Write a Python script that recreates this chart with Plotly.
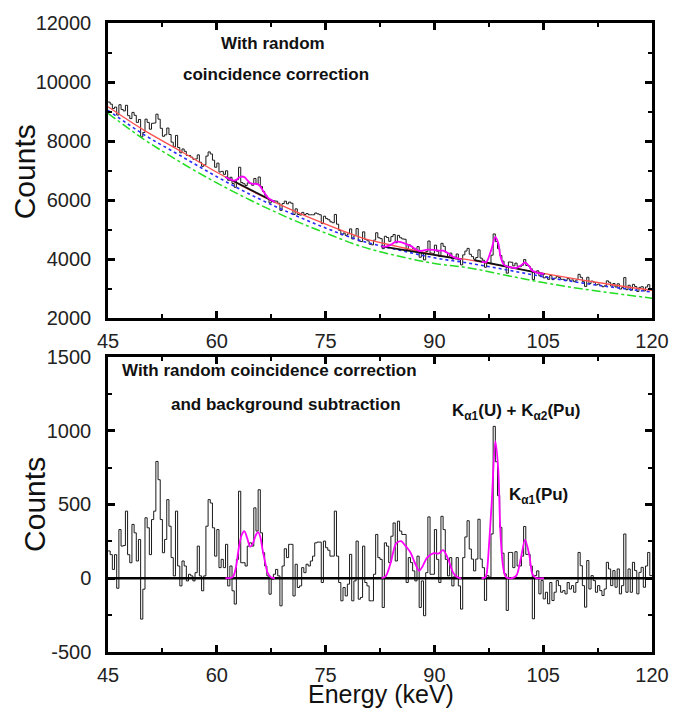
"""
Two-panel gamma spectrum (45-120 keV): raw counts with background fits (top)
and net counts after random-coincidence correction and background
subtraction (bottom), with the fitted X-ray peaks in magenta.
"""
import numpy as np
import plotly.graph_objects as go
from plotly.subplots import make_subplots

# Histogram bins: 250 channels of 0.3 keV starting at 45 keV.
BIN_START = 45.0
BIN_WIDTH = 0.3

# Net counts per bin (bottom panel).
NET = [
    185, 160, 60, 160, -68, 330, 218, 222, 455, 160, 105, 365, 308, 117, 263, -277, -74,
    410, 342, 160, 398, 455, 792, 668, 398, 173, 263, 533, 353, 140, 16, 455, 83, -52,
    117, 83, -18, 27, 16, -18, 38, 218, 16, -85, 16, 353, 533, 510, 342, 150,
    330, 72, 128, 72, 230, -52, 83, -85, -175, 128, 590, 105, 105, 83, 218, 240, 218,
    477, 320, 600, 308, 173, 83, 16, -108, -7, 27, 60, 16, -187, 83, 200, 140, 230,
    230, -120, 95, -63, -52, 72, 38, 95, 83, 117, 150, 240, 245, 245, -29, 252,
    207, 190, 150, 150, 455, 150, -29, -153, -63, -120, -40, 162, -153, -18, 252, -142, -130,
    218, -29, -52, -153, -153, 27, 297, 140, 128, -198, 240, 218, 106, 285, 375, 117, 387,
    320, 297, 297, -29, 140, 106, 50, -18, 150, -198, -18, -254, 38, 416, 27, 27,
    330, 128, -29, 420, 330, 128, 16, 140, -52, 16, 140, -52, -209, 140, 280, 390, 198,
    130, 50, 130, 400, 130, 72, -150, 18, 7, 300, 1030, 790, 560, 345, 170, 30, -218,
    175, 175, 72, 180, 83, 83, 150, 351, 162, 162, 83, -275, 18, 50, -106, -16,
    -140, -95, -173, -29, -151, -95, -16, -50, -95, -84, -106, -29, -73, -50, -95, -29, 175,
    85, -50, -196, 120, -73, 18, -16, -95, -50, -84, -117, -73, 108, 63, -50, 52, -61,
    63, -106, -50, 300, -95, 63, -95, 108, 52, -106, 40, 74, -61, 83, 175, 18,
]

# Raw counts per bin (top panel), corrected for random coincidences.
RAW = [
    9320, 9250, 9100, 9150, 8880, 9230, 9070, 9020, 9210, 8860, 8760, 8970, 8870, 8630, 8730, 8140, 8290,
    8740, 8630, 8400, 8600, 8610, 8910, 8740, 8430, 8160, 8210, 8440, 8220, 7960, 7800, 8190, 7780, 7600,
    7730, 7650, 7510, 7510, 7450, 7380, 7390, 7530, 7280, 7140, 7190, 7490, 7630, 7560, 7350, 7110,
    7250, 6950, 6970, 6870, 6990, 6670, 6770, 6560, 6430, 6690, 7110, 6590, 6550, 6490, 6580, 6570, 6500,
    6730, 6540, 6780, 6460, 6290, 6160, 6060, 5900, 5970, 5970, 5960, 5890, 5650, 5880, 5960, 5870, 5930,
    5890, 5510, 5700, 5510, 5490, 5580, 5510, 5540, 5500, 5500, 5500, 5560, 5530, 5500, 5200, 5450,
    5370, 5330, 5260, 5230, 5510, 5180, 4970, 4820, 4880, 4800, 4850, 5020, 4680, 4790, 5030, 4610, 4590,
    4920, 4660, 4620, 4500, 4480, 4640, 4890, 4720, 4690, 4350, 4770, 4730, 4600, 4760, 4830, 4550, 4800,
    4720, 4680, 4670, 4320, 4480, 4430, 4350, 4270, 4420, 4060, 4220, 3970, 4250, 4610, 4200, 4190,
    4470, 4260, 4090, 4530, 4430, 4220, 4090, 4200, 4000, 4060, 4170, 3970, 3800, 4140, 4270, 4360, 4160,
    4080, 3990, 4050, 4310, 4030, 3960, 3720, 3880, 3850, 4130, 4850, 4590, 4350, 4120, 3930, 3780, 3520,
    3900, 3890, 3770, 3860, 3750, 3740, 3790, 3980, 3780, 3760, 3670, 3300, 3580, 3600, 3430, 3500,
    3360, 3400, 3310, 3440, 3300, 3350, 3410, 3370, 3310, 3310, 3270, 3340, 3280, 3290, 3230, 3290, 3480,
    3380, 3230, 3070, 3380, 3170, 3250, 3210, 3120, 3150, 3100, 3060, 3090, 3260, 3210, 3080, 3170, 3050,
    3160, 2980, 3030, 3370, 2960, 3110, 2940, 3140, 3070, 2900, 3040, 3060, 2920, 3050, 3130, 2960,
]

# Background curves in the top panel, sampled every 5 keV.
BG_E = [45, 50, 55, 60, 65, 70, 75, 80, 85, 90, 95, 100, 105, 110, 115, 120]
BG_RED = [9160, 8360, 7660, 6940, 6280, 5700, 5180, 4720, 4420, 4150, 3960, 3740, 3510, 3300, 3110, 2940]
BG_BLUE = [9040, 8210, 7500, 6790, 6140, 5570, 5050, 4610, 4310, 4040, 3850, 3630, 3400, 3200, 3030, 2880]
BG_GREEN = [8940, 8050, 7280, 6580, 5950, 5380, 4880, 4420, 4100, 3850, 3690, 3440, 3200, 3000, 2830, 2670]

# Local linear baselines under the fitted peak groups (top panel).
BASE_E = [[61.2, 68.0], [82.7, 93.7], [95.5, 105.2]]
BASE_Y = [[6780, 5930], [4430, 3990], [3960, 3490]]

# Peak fits: energies, net fit (bottom) and fit on raw counts (top).
FIT1_E = [61.2, 61.9, 62.3, 62.7, 63.0, 63.4, 63.8, 64.2, 64.6, 65.0, 65.4, 65.7, 66.0, 66.3, 66.7, 67.0, 67.5, 68.0]
FIT1_NET = [0, 2, 16, 90, 196, 290, 320, 270, 214, 240, 295, 313, 280, 196, 100, 38, 5, 0]
FIT1_RAW = [6780, 6694, 6658, 6682, 6751, 6795, 6775, 6675, 6569, 6545, 6550, 6531, 6460, 6339, 6193, 6093, 5998, 5930]

FIT2_E = [82.7, 83.3, 84.0, 84.7, 85.4, 86.0, 86.7, 87.3, 87.9, 88.3, 89.0, 89.9, 90.6, 91.2, 91.9, 92.6, 93.3, 93.7]
FIT2_NET = [0, 15, 110, 235, 252, 220, 175, 105, 50, 75, 140, 170, 168, 190, 130, 35, 3, 0]
FIT2_RAW = [4430, 4421, 4488, 4585, 4574, 4518, 4445, 4351, 4272, 4281, 4318, 4312, 4282, 4280, 4192, 4069, 4009, 3990]

FIT3_E = [96.5, 97.0, 97.2, 97.4, 97.9, 98.4, 98.8, 99.1, 99.45, 99.7, 99.9, 100.6, 101.3, 101.9, 102.5, 103.1, 103.5, 104.0, 105.1]
FIT3_NET = [0, 5, 30, 130, 513, 929, 738, 310, 85, 25, 7, 0, 18, 130, 261, 153, 29, 2, 0]
FIT3_RAW = [3912, 3892, 3908, 3998, 4357, 4748, 4538, 4096, 3854, 3782, 3754, 3713, 3697, 3780, 3882, 3745, 3601, 3550, 3494]

# Axis ticks (hyphen minus as in the original figure).
X_TICKS = [45, 60, 75, 90, 105, 120]
Y1_TICKS = [2000, 4000, 6000, 8000, 10000, 12000]
Y2_TICKS = [-500, 0, 500, 1000, 1500]
Y2_LABELS = ["-500", "0", "500", "1000", "1500"]

FONT = "Liberation Sans, Arial, sans-serif"
MAGENTA = "#ff00ff"


def step_xy(values):
    """Bin edges + values for an 'hv' step line closing on the last edge."""
    edges = BIN_START + BIN_WIDTH * np.arange(len(values) + 1)
    return edges, list(values) + [values[-1]]


fig = make_subplots(rows=2, cols=1)

# ---- top panel: raw spectrum and backgrounds
hx, hy = step_xy(RAW)
fig.add_trace(go.Scatter(x=hx, y=hy, mode="lines", line=dict(color="#1a1a1a", width=1, shape="hv")),
              row=1, col=1)
fig.add_trace(go.Scatter(x=BG_E, y=BG_GREEN, mode="lines",
                         line=dict(color="#22dd22", width=1.5, dash="dashdot", shape="spline")), row=1, col=1)
fig.add_trace(go.Scatter(x=BG_E, y=BG_BLUE, mode="lines",
                         line=dict(color="#2a2aff", width=1.6, dash="dot", shape="spline")), row=1, col=1)
fig.add_trace(go.Scatter(x=BG_E, y=BG_RED, mode="lines",
                         line=dict(color="#ff5050", width=1.3, shape="spline")), row=1, col=1)
for be, by in zip(BASE_E, BASE_Y):
    fig.add_trace(go.Scatter(x=be, y=by, mode="lines", line=dict(color="#111", width=1.8)), row=1, col=1)
for fe, fr in [(FIT1_E, FIT1_RAW), (FIT2_E, FIT2_RAW), (FIT3_E, FIT3_RAW)]:
    fig.add_trace(go.Scatter(x=fe, y=fr, mode="lines",
                             line=dict(color=MAGENTA, width=1.8, shape="spline", smoothing=0.8)),
                  row=1, col=1)

# ---- bottom panel: net spectrum
nx, ny = step_xy(NET)
fig.add_trace(go.Scatter(x=nx, y=ny, mode="lines", line=dict(color="#1a1a1a", width=1, shape="hv")),
              row=2, col=1)
fig.add_trace(go.Scatter(x=[45, 120], y=[0, 0], mode="lines", line=dict(color="black", width=2.5)),
              row=2, col=1)
for fe, fn in [(FIT1_E, FIT1_NET), (FIT2_E, FIT2_NET), (FIT3_E, FIT3_NET)]:
    fig.add_trace(go.Scatter(x=fe, y=fn, mode="lines",
                             line=dict(color=MAGENTA, width=1.8, shape="spline", smoothing=0.8)),
                  row=2, col=1)

axis_style = dict(
    showline=True, linecolor="black", linewidth=2.5, mirror="ticks",
    ticks="inside", ticklen=7, tickwidth=2.5, tickcolor="black",
    showgrid=False, zeroline=False,
    tickfont=dict(size=20, color="#222", family=FONT),
)
fig.update_xaxes(range=[45, 120], tickvals=X_TICKS, ticklabelstandoff=3,
                 minor=dict(ticks="inside", ticklen=4, tickwidth=2, tickcolor="black", dtick=7.5, tick0=45),
                 **axis_style)
fig.update_yaxes(ticklabelstandoff=10, **axis_style)
fig.update_yaxes(range=[2000, 12000], tickvals=Y1_TICKS, tickformat="d", domain=[0.531, 1.0],
                 minor=dict(ticks="inside", ticklen=4, tickwidth=2, tickcolor="black", dtick=1000),
                 row=1, col=1)
fig.update_yaxes(range=[-500, 1500], tickvals=Y2_TICKS, ticktext=Y2_LABELS, domain=[0.0, 0.469],
                 minor=dict(ticks="inside", ticklen=4, tickwidth=2, tickcolor="black", dtick=250),
                 row=2, col=1)

bold = dict(family=FONT, size=17, color="#111")
notes = [
    ("x", "y", 67.7, 11320, "<b>With random</b>"),
    ("x", "y", 68.1, 10240, "<b>coincidence correction</b>"),
    ("x2", "y2", 67.3, 1410, "<b>With random coincidence correction</b>"),
    ("x2", "y2", 69.5, 1176, "<b>and background subtraction</b>"),
    ("x2", "y2", 101.2, 1130, "<b>K<sub>α1</sub>(U) + K<sub>α2</sub>(Pu)</b>"),
    ("x2", "y2", 104.4, 555, "<b>K<sub>α1</sub>(Pu)</b>"),
]
for xr, yr, xv, yv, txt in notes:
    fig.add_annotation(xref=xr, yref=yr, x=xv, y=yv, text=txt, showarrow=False,
                       xanchor="center", yanchor="middle", font=bold)

title_font = dict(family=FONT, size=30, color="#111")
fig.add_annotation(xref="paper", yref="paper", x=-0.154, y=0.763, text="Counts", textangle=-90,
                   showarrow=False, xanchor="center", yanchor="middle", font=title_font)
fig.add_annotation(xref="paper", yref="paper", x=-0.134, y=0.234, text="Counts", textangle=-90,
                   showarrow=False, xanchor="center", yanchor="middle", font=title_font)
fig.add_annotation(xref="paper", yref="paper", x=0.502, y=-0.067, text="Energy (keV)",
                   showarrow=False, xanchor="center", yanchor="middle",
                   font=dict(family=FONT, size=25, color="#111"))

fig.update_layout(
    width=681, height=712,
    margin=dict(l=108, r=19, t=23, b=60),
    paper_bgcolor="white", plot_bgcolor="white",
    showlegend=False,
    font=dict(family=FONT),
)

fig.write_html("out.html", config={"displayModeBar": False},
               post_script="document.body.style.margin='0px';")
